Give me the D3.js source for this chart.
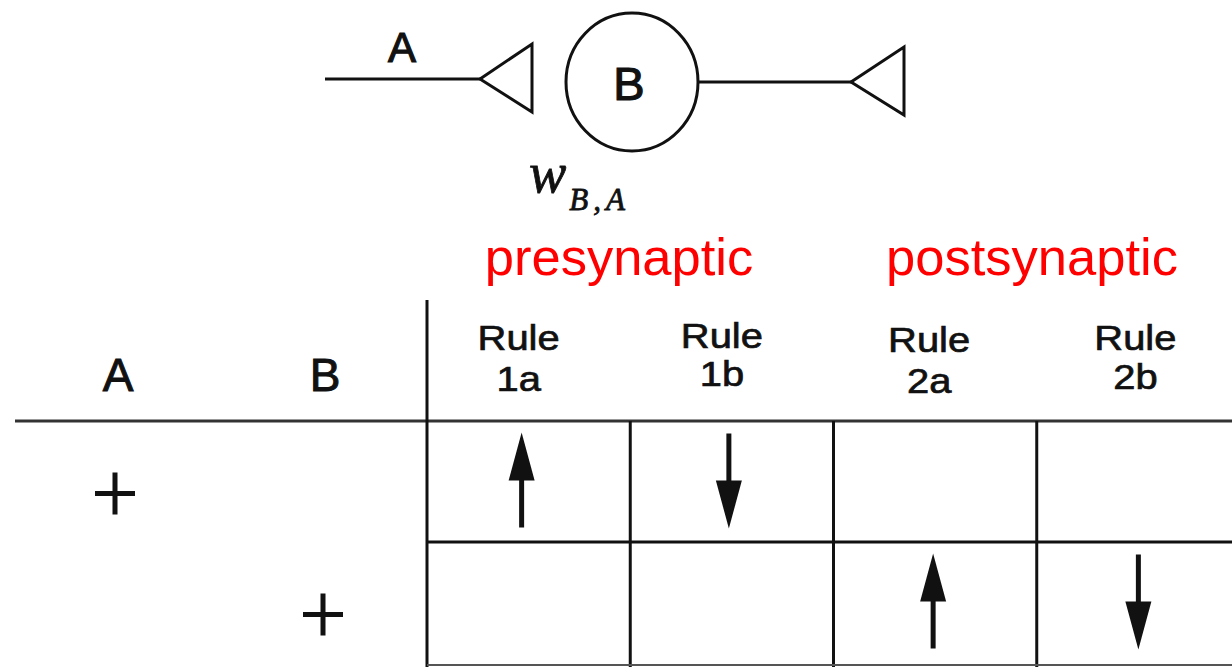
<!DOCTYPE html>
<html>
<head>
<meta charset="utf-8">
<script src="https://cdn.jsdelivr.net/npm/d3@7"></script>
<style>
  html, body { margin: 0; padding: 0; background: #fff; }
  svg { display: block; }
</style>
</head>
<body>
<div id="container"></div>
<script>
// table data
const rules = ['1a', '1b', '2a', '2b'];
const rows = ['row1', 'row2'];
const activeA = ['+', ''];
const activeB = ['', '+'];
// weight change per rule, one entry per row: 1 = up, -1 = down, 0 = none
const change1a = [1, 0];
const change1b = [-1, 0];
const change2a = [0, 1];
const change2b = [0, -1];
const groupLabels = ['presynaptic', 'postsynaptic'];

const changes = [change1a, change1b, change2a, change2b];

const width = 1232;
const height = 667;
const ink = '#111';

const svg = d3.select('#container')
    .append('svg')
    .attr('width', width)
    .attr('height', height)
    .attr('viewBox', `0 0 ${width} ${height}`)
    .style('font-family', '"Liberation Sans", Arial, sans-serif');

// ---- neuron diagram ----
const diagram = svg.append('g').attr('stroke', ink).attr('stroke-width', 3).attr('fill', 'none');

diagram.append('line').attr('x1', 325).attr('y1', 79).attr('x2', 480).attr('y2', 79);
diagram.append('path').attr('d', 'M480,79 L532,44 L532,112 Z');
diagram.append('ellipse').attr('cx', 632).attr('cy', 82).attr('rx', 66).attr('ry', 69);
diagram.append('line').attr('x1', 698).attr('y1', 82).attr('x2', 851).attr('y2', 82);
diagram.append('path').attr('d', 'M851,82 L904,47 L904,115 Z');

svg.append('text')
    .attr('x', 402).attr('y', 62)
    .attr('text-anchor', 'middle')
    .attr('font-size', 42)
    .attr('fill', ink).attr('stroke', ink).attr('stroke-width', 1.2)
    .text('A');

svg.append('text')
    .attr('x', 629).attr('y', 100)
    .attr('text-anchor', 'middle')
    .attr('font-size', 47)
    .attr('fill', ink).attr('stroke', ink).attr('stroke-width', 1.2)
    .text('B');

const wLabel = svg.append('text')
    .attr('x', 529).attr('y', 192)
    .attr('font-family', '"Liberation Serif", "DejaVu Serif", serif')
    .attr('font-style', 'italic')
    .attr('fill', ink).attr('stroke', ink).attr('stroke-width', 0.8);
wLabel.append('tspan').attr('font-size', 56).text('w');
wLabel.append('tspan').attr('font-size', 31).attr('dy', 18).attr('dx', 3).attr('letter-spacing', 5).text('B,A');

// ---- group labels ----
svg.selectAll('.group-label')
    .data(groupLabels)
    .join('text')
    .attr('class', 'group-label')
    .attr('x', (d, i) => [619, 1032][i])
    .attr('y', 275)
    .attr('text-anchor', 'middle')
    .attr('font-size', 52.5)
    .attr('fill', '#ff0000')
    .text(d => d);

// ---- table ----
const x = d3.scaleBand().domain(rules).range([427, 1240]);
const y = d3.scaleBand().domain(rows).range([421, 663]);

const grid = svg.append('g').attr('stroke', ink).attr('stroke-width', 3);

grid.append('line').attr('x1', 15).attr('x2', width).attr('y1', y.range()[0]).attr('y2', y.range()[0]).attr('stroke', '#333');
grid.append('line').attr('x1', 427).attr('x2', 427).attr('y1', 300).attr('y2', height);
grid.selectAll('.col')
    .data(rules.slice(1))
    .join('line')
    .attr('x1', d => x(d)).attr('x2', d => x(d))
    .attr('y1', y.range()[0]).attr('y2', height);
grid.append('line').attr('x1', 427).attr('x2', width).attr('y1', y('row2')).attr('y2', y('row2'));
grid.append('line').attr('x1', 427).attr('x2', width).attr('y1', 665).attr('y2', 665).attr('stroke', '#555').attr('stroke-width', 2);

// header
const headStyle = sel => sel
    .attr('text-anchor', 'middle')
    .attr('fill', ink)
    .attr('stroke', ink)
    .attr('stroke-width', 1);
svg.append('text').attr('x', 118).attr('y', 391).attr('font-size', 46).call(headStyle).text('A');
svg.append('text').attr('x', 325).attr('y', 391).attr('font-size', 46).call(headStyle).text('B');

const ruleOffsets = [-10, -10, -6, -3];
const ruleBaselines = [[350, 391], [348, 386], [352, 393], [350, 389]];
rules.forEach((rule, i) => {
    const cx = x(rule) + x.bandwidth() / 2 + ruleOffsets[i];
    const g = svg.append('g')
        .attr('class', 'rule-head')
        .attr('transform', `translate(${cx},0) scale(1.14,1)`);
    g.append('text').attr('x', 0).attr('y', ruleBaselines[i][0]).attr('font-size', 35).call(headStyle).attr('stroke-width', 0.7).text('Rule');
    g.append('text').attr('x', 0).attr('y', ruleBaselines[i][1]).attr('font-size', 35).call(headStyle).attr('stroke-width', 0.7).text(rule);
});

// plus signs for active neurons
const plusColumns = [115, 323];
const drawPlus = (cx, cy) => {
    svg.append('path')
        .attr('d', `M${cx - 20},${cy} H${cx + 20} M${cx},${cy - 21} V${cy + 21}`)
        .attr('stroke', ink)
        .attr('stroke-width', 5);
};
rows.forEach((r, i) => {
    const cy = y(r) + y.bandwidth() / 2 + 12;
    if (activeA[i] === '+') drawPlus(plusColumns[0], cy);
    if (activeB[i] === '+') drawPlus(plusColumns[1], cy);
});

// arrows
const arrowData = [];
rules.forEach((rule, ci) => {
    rows.forEach((r, ri) => {
        if (changes[ci][ri] !== 0) arrowData.push({ rule, row: r, dir: changes[ci][ri] });
    });
});

const arrowOffsets = { '1a': -7, '1b': -3, '2a': -2, '2b': 0 };
const arrows = svg.selectAll('.arrow')
    .data(arrowData)
    .join('g')
    .attr('class', 'arrow')
    .attr('transform', d => `translate(${x(d.rule) + x.bandwidth() / 2 + arrowOffsets[d.rule]}, ${y(d.row) + y.bandwidth() / 2 - 1})`);

arrows.append('line')
    .attr('x1', 0).attr('x2', 0)
    .attr('y1', d => d.dir > 0 ? 47 : -47)
    .attr('y2', d => d.dir > 0 ? -10 : 10)
    .attr('stroke', ink)
    .attr('stroke-width', 5);

arrows.append('path')
    .attr('d', d => d.dir > 0
        ? 'M0,-48 L-13,0 L13,0 Z'
        : 'M0,48 L-13,0 L13,0 Z')
    .attr('fill', ink);
</script>
</body>
</html>
